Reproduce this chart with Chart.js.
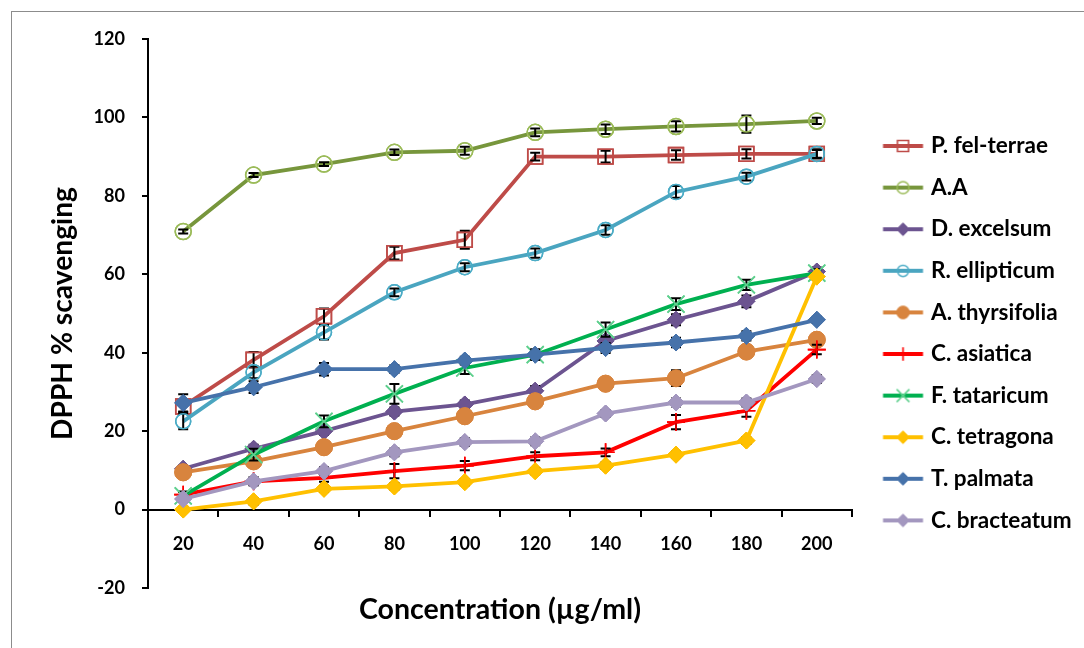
<!DOCTYPE html>
<html><head><meta charset="utf-8">
<script src="https://cdn.jsdelivr.net/npm/chart.js@4/dist/chart.umd.min.js"></script>
<style>
html,body{margin:0;padding:0;background:#fff;}
#wrap{position:relative;width:1084px;height:648px;overflow:hidden;background:#fff;}
#frame{position:absolute;left:11px;top:11px;width:1200px;height:800px;border-left:1px solid #8c8c8c;border-top:1px solid #8c8c8c;pointer-events:none;}
canvas{position:absolute;left:0;top:0;}
</style></head><body>
<div id="wrap"><canvas id="c" width="1084" height="648"></canvas><div id="frame"></div></div>
<script>
// ---- data ----
const categories = ['20','40','60','80','100','120','140','160','180','200'];
const seriesNames = ['P. fel-terrae','A.A','D. excelsum','R. ellipticum','A. thyrsifolia','C. asiatica','F. tataricum','C. tetragona','T. palmata','C. bracteatum'];

const pFelTerrae   = [26.3, 38.2, 49.3, 65.4, 68.8, 90.0, 90.0, 90.4, 90.7, 90.7];
const aA           = [70.9, 85.3, 88.1, 91.1, 91.5, 96.2, 97.0, 97.7, 98.3, 99.1];
const dExcelsum    = [10.4, 15.5, 20.0, 25.0, 26.8, 30.3, 43.0, 48.4, 53.1, 60.7];
const rEllipticum  = [22.5, 35.0, 45.2, 55.4, 61.8, 65.4, 71.3, 81.0, 84.9, 90.7];
const aThyrsifolia = [9.5, 12.3, 15.9, 20.0, 23.8, 27.6, 32.1, 33.5, 40.3, 43.3];
const cAsiatica    = [3.8, 7.2, 8.1, 9.8, 11.2, 13.6, 14.6, 22.3, 25.2, 40.8];
const fTataricum   = [3.5, 14.0, 22.5, 29.5, 36.1, 39.5, 45.9, 52.4, 57.3, 60.3];
const cTetragona   = [0.0, 2.1, 5.3, 5.9, 7.0, 9.8, 11.2, 14.0, 17.6, 59.4];
const tPalmata     = [27.2, 31.2, 35.8, 35.8, 38.0, 39.5, 41.2, 42.6, 44.3, 48.4];
const cBracteatum  = [2.7, 7.2, 9.8, 14.6, 17.2, 17.4, 24.5, 27.3, 27.3, 33.3];

// error bar half-widths (± SD)
const pFelTerraeErr   = [1.5, 2.0, 2.0, 1.6, 2.3, 1.0, 1.5, 1.2, 1.2, 1.0];
const aAErr           = [0.5, 0.5, 0.5, 0.7, 1.0, 1.0, 1.2, 1.3, 2.2, 0.8];
const dExcelsumErr    = [0.8, 1.0, 1.0, 1.0, 1.0, 1.2, 1.3, 1.4, 1.5, 1.0];
const rEllipticumErr  = [2.0, 1.5, 1.8, 1.0, 1.0, 1.2, 1.2, 1.5, 1.0, 1.2];
const aThyrsifoliaErr = [0.8, 1.0, 1.0, 0.8, 1.0, 1.0, 0.8, 2.0, 1.0, 1.0];
const cAsiaticaErr    = [0.8, 1.0, 1.0, 1.8, 1.2, 1.0, 1.0, 1.8, 1.5, 1.2];
const fTataricumErr   = [1.0, 1.5, 1.5, 2.5, 1.5, 1.3, 1.8, 1.5, 1.3, 1.0];
const cTetragonaErr   = [0.5, 0.8, 0.8, 0.8, 0.8, 0.8, 0.8, 0.8, 0.8, 0.8];
const tPalmataErr     = [2.2, 1.5, 1.6, 1.0, 1.0, 1.3, 1.3, 1.2, 1.2, 0.8];
const cBracteatumErr  = [0.8, 1.0, 1.0, 1.0, 1.0, 1.0, 0.8, 1.0, 1.0, 1.0];

const yMin = -20, yMax = 120, yStep = 20;
const xTitle = 'Concentration (µg/ml)';
const yTitle = 'DPPH % scavenging';

const seriesValues = [pFelTerrae, aA, dExcelsum, rEllipticum, aThyrsifolia, cAsiatica, fTataricum, cTetragona, tPalmata, cBracteatum];
const seriesErrors = [pFelTerraeErr, aAErr, dExcelsumErr, rEllipticumErr, aThyrsifoliaErr, cAsiaticaErr, fTataricumErr, cTetragonaErr, tPalmataErr, cBracteatumErr];

// ---- styles ----
const styles = [
  {line:'#BE4B48', border:'#BE4B48', fill:'rgba(0,0,0,0)', shape:'rect',    r:10.5, bw:1.6},
  {line:'#77963C', border:'#9BBB59', fill:'rgba(0,0,0,0)', shape:'circle',  r:8,    bw:1.5},
  {line:'#6C5490', border:'#6C5490', fill:'#6C5490',       shape:'rectRot', r:8.5,  bw:1},
  {line:'#4AA5C0', border:'#4BACC6', fill:'rgba(0,0,0,0)', shape:'circle',  r:7.5,  bw:1.5},
  {line:'#D8843E', border:'#D8843E', fill:'#D8843E',       shape:'circle',  r:8.5,  bw:1},
  {line:'#FF0000', border:'#FF0000', fill:'#FF0000',       shape:'cross',   r:9,    bw:1.6},
  {line:'#00B050', border:'#5FD08E', fill:'rgba(0,0,0,0)', shape:'crossRot',r:12,   bw:1.6},
  {line:'#FFC000', border:'#FFC000', fill:'#FFC000',       shape:'rectRot', r:8.5,  bw:1},
  {line:'#4672AA', border:'#4672AA', fill:'#4672AA',       shape:'rectRot', r:8.5,  bw:1},
  {line:'#A397BF', border:'#A397BF', fill:'#A397BF',       shape:'rectRot', r:8.5,  bw:1}
];
const FONT = 'Lato';
const mctx = document.createElement('canvas').getContext('2d');
function textW(t, size) { mctx.font = 'bold ' + size + 'px ' + FONT; return mctx.measureText(t).width; }
function fitSize(t, target) { return 100 * target / textW(t, 100); }

const tickSize = fitSize('120', 31.5);
const legendSize = fitSize('P. fel-terrae', 117);
const xTitleSize = fitSize(xTitle, 282);
const yTitleSize = fitSize(yTitle, 253);

const tickFont = {family: FONT, size: tickSize, weight: 'bold'};
const legendFont = {family: FONT, size: legendSize, weight: 'bold'};
const xTitleFont = {family: FONT, size: xTitleSize, weight: 'bold'};
const yTitleFont = {family: FONT, size: yTitleSize, weight: 'bold'};

// geometry targets
const plotLeft = 148, plotRight = 852, plotTop = 39, plotBottom = 588;
const legendStep = 41.6, legendTextX = 931, legendLineX0 = 883, legendLineX1 = 923;
const legendPad = legendStep - legendSize;
const legendBox = legendTextX - plotRight - legendPad - legendSize / 2;
const bottomPad = 20.6;
const xTitleLH = xTitleSize * 1.2;
const xTitlePadTop = 610 - plotBottom - xTitleLH / 2;
const xTitlePadBottom = Math.max(0, (648 - bottomPad - plotBottom) - xTitleLH - xTitlePadTop);
const yTitlePadTop = 63 - yTitleSize * 1.2 / 2;

const iconW = 90;
const iconCenter = plotRight + legendPad + legendBox / 2;
const iconLeft = iconCenter - iconW / 2;
function makeIcon(st) {
  const cv = document.createElement('canvas');
  cv.width = iconW; cv.height = 24;
  const ctx = cv.getContext('2d');
  ctx.strokeStyle = st.line; ctx.lineWidth = 3.8;
  ctx.beginPath(); ctx.moveTo(legendLineX0 - iconLeft, 12); ctx.lineTo(legendLineX1 - iconLeft, 12); ctx.stroke();
  ctx.fillStyle = st.fill; ctx.strokeStyle = st.border; ctx.lineWidth = st.bw;
  Chart.helpers.drawPoint(ctx, {pointStyle: st.shape, radius: st.r * 0.75, rotation: 0, borderWidth: st.bw}, (legendLineX0 + legendLineX1) / 2 - iconLeft, 12);
  return cv;
}
const icons = styles.map(makeIcon);

const maxText = Math.max(...seriesNames.map(t => textW(t, legendSize)));
const legendW = legendPad + legendBox + legendSize / 2 + maxText + 10;
const rightPad = Math.max(0, 1084 - plotRight - legendW);

const datasets = seriesNames.map((name, i) => ({
  label: name,
  data: seriesValues[i],
  errorBars: seriesErrors[i],
  borderColor: styles[i].line,
  backgroundColor: styles[i].fill,
  borderWidth: 3.8,
  tension: 0,
  pointStyle: styles[i].shape,
  pointRadius: styles[i].r,
  pointHoverRadius: styles[i].r,
  pointBackgroundColor: styles[i].fill,
  pointBorderColor: styles[i].border,
  pointBorderWidth: styles[i].bw,
  order: seriesNames.length - i
}));

const errorBarPlugin = {
  id: 'errorBars',
  afterDatasetDraw(chart, args) {
    const ds = chart.data.datasets[args.index];
    const meta = args.meta;
    const ys = chart.scales.y;
    const ctx = chart.ctx;
    if (!ds.errorBars) return;
    ctx.save();
    ctx.strokeStyle = '#000';
    ctx.lineWidth = 2;
    meta.data.forEach((pt, j) => {
      const v = ds.data[j], e = ds.errorBars[j];
      const x = pt.x;
      const yt = ys.getPixelForValue(v + e), yb = ys.getPixelForValue(v - e);
      ctx.beginPath();
      ctx.moveTo(x, yt); ctx.lineTo(x, yb);
      ctx.moveTo(x - 5, yt); ctx.lineTo(x + 5, yt);
      ctx.moveTo(x - 5, yb); ctx.lineTo(x + 5, yb);
      ctx.stroke();
    });
    ctx.restore();
    meta.data.forEach(pt => pt.draw(ctx, chart.chartArea));
  }
};

new Chart(document.getElementById('c'), {
  type: 'line',
  data: { labels: categories, datasets },
  plugins: [errorBarPlugin],
  options: {
    responsive: false,
    animation: false,
    devicePixelRatio: 1,
    layout: { padding: { left: 0, top: plotTop, right: rightPad, bottom: bottomPad } },
    plugins: {
      tooltip: { enabled: false },
      title: {
        display: true, position: 'bottom', fullSize: false, text: xTitle,
        color: '#000', font: xTitleFont, padding: { top: xTitlePadTop, bottom: xTitlePadBottom }
      },
      legend: {
        position: 'right', align: 'center',
        labels: {
          usePointStyle: true, pointStyleWidth: legendBox, padding: legendPad,
          color: '#000', font: legendFont,
          generateLabels: (chart) => chart.data.datasets.map((ds, i) => ({
            text: ds.label, pointStyle: icons[i], fillStyle: 'rgba(0,0,0,0)',
            strokeStyle: 'rgba(0,0,0,0)', lineWidth: 0, hidden: false,
            datasetIndex: i, fontColor: '#000'
          }))
        }
      }
    },
    scales: {
      x: {
        type: 'category', offset: true,
        position: { y: 0 },
        grid: { offset: true, drawOnChartArea: false, drawTicks: true, tickLength: 6, color: '#000', lineWidth: 2 },
        border: { display: true, color: '#000', width: 2 },
        ticks: { padding: 17.4, color: '#000', font: tickFont, autoSkip: false, maxRotation: 0 }
      },
      y: {
        min: yMin, max: yMax,
        ticks: { stepSize: yStep, padding: 17, color: '#000', font: tickFont },
        grid: { drawOnChartArea: false, drawTicks: true, tickLength: 6, color: '#000', lineWidth: 2 },
        border: { display: true, color: '#000', width: 2 },
        title: { display: true, text: yTitle, color: '#000', font: yTitleFont, padding: { top: yTitlePadTop, bottom: 0 } },
        afterFit: (s) => { s.width = plotLeft; }
      }
    }
  }
});
</script>
</body></html>
